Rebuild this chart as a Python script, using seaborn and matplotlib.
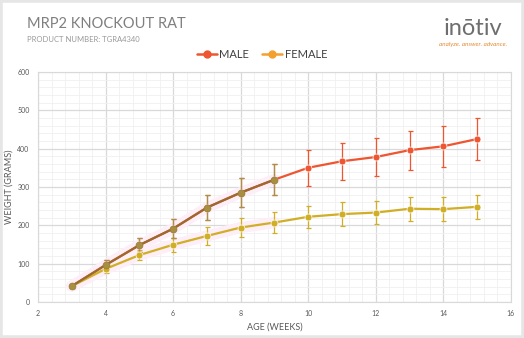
import matplotlib
matplotlib.use("Agg")
import matplotlib.pyplot as plt
import seaborn as sns
import pandas as pd
from matplotlib.patches import Rectangle
from matplotlib.lines import Line2D

weeks = [3, 4, 5, 6, 7, 8, 9, 10, 11, 12, 13, 14, 15]
male = [41, 96, 148, 191, 246, 285, 319, 350, 367, 378, 396, 406, 425]
male_err = [5, 12, 18, 25, 32, 37, 41, 47, 48, 49, 51, 54, 56]
female = [41, 86, 122, 149, 172, 194, 207, 222, 229, 233, 243, 242, 248]
female_err = [5, 10, 14, 18, 23, 25, 27, 29, 31, 31, 31, 31, 32]

df = pd.DataFrame({
    "week": weeks * 2,
    "weight": male + female,
    "sex": ["MALE"] * len(weeks) + ["FEMALE"] * len(weeks),
})

sns.set_theme(style="white")
plt.rcParams["font.family"] = ["Lato", "DejaVu Sans"]

c_male = "#EE5530"
c_male_dark = "#9A6A2E"
c_female = "#D0AE26"

fig = plt.figure(figsize=(5.24, 3.38), dpi=100)
ax = fig.add_axes([0.0725, 0.107, 0.9025, 0.68])

# faint pink glow
early = df[df["week"] <= 9]
for sex in ["MALE", "FEMALE"]:
    d = early[early["sex"] == sex]
    ax.plot(d["week"], d["weight"], color="#FDEEF8", lw=8, solid_capstyle="round", zorder=1.5)

sns.lineplot(data=df, x="week", y="weight", hue="sex",
             palette={"MALE": c_male, "FEMALE": c_female},
             marker="o", markersize=5, linewidth=1.6, markeredgewidth=0.5,
             ax=ax, legend=False, zorder=3)
dm = df[(df["sex"] == "MALE") & (df["week"] <= 9)]
ax.plot(dm["week"], dm["weight"], color=c_male_dark, lw=1.6, marker="o", ms=5,
        mec="#9A7A3A", mfc="#A88E40", mew=0.5, zorder=3.5)

ax.errorbar(weeks, male, yerr=male_err, fmt="none", ecolor=c_male, elinewidth=0.9,
            capsize=1.8, capthick=0.9, zorder=2.5)
ax.errorbar(weeks[:7], male[:7], yerr=male_err[:7], fmt="none", ecolor="#A8904A",
            elinewidth=0.9, capsize=1.8, capthick=0.9, zorder=2.6)
ax.errorbar(weeks, female, yerr=female_err, fmt="none", ecolor=c_female, elinewidth=0.9,
            capsize=1.8, capthick=0.9, zorder=2.5)

ax.set_xlim(2, 16)
ax.set_ylim(0, 600)
ax.set_xticks(range(2, 17, 2))
ax.set_yticks(range(0, 601, 100))
ax.set_xticks([2 + 0.4 * i for i in range(36)], minor=True)
ax.set_yticks(range(0, 601, 20), minor=True)
ax.grid(True, which="major", color="#D9D9D9", lw=0.9, zorder=0)
ax.grid(True, which="minor", color="#F0F0F0", lw=0.6, zorder=0)
ax.set_axisbelow(True)
for s in ax.spines.values():
    s.set_color("#D9D9D9")
    s.set_linewidth(0.8)
ax.tick_params(axis="both", which="both", length=0, labelsize=5, colors="#595959", pad=6)
ax.set_xlabel("AGE (WEEKS)", fontsize=6.5, color="#595959")
ax.set_ylabel("WEIGHT (GRAMS)", fontsize=6.5, color="#595959")
ax.yaxis.set_label_coords(-0.052, 0.5)
ax.xaxis.set_label_coords(0.5, -0.09)

# legend
handles = [Line2D([0], [0], color=c_male, lw=1.8, marker="o", ms=5),
           Line2D([0], [0], color="#F3A02E", lw=1.8, marker="o", ms=5)]
fig.legend(handles, ["MALE", "FEMALE"], loc="center", bbox_to_anchor=(0.5, 0.838),
           ncol=2, frameon=False, fontsize=8, handlelength=1.8, handletextpad=0.2,
           columnspacing=1.2, labelcolor="#404040")

# titles
fig.text(0.051, 0.928, "MRP2 KNOCKOUT RAT", fontsize=10.5, color="#7F7F7F", va="center", ha="left")
fig.text(0.051, 0.883, "PRODUCT NUMBER: TGRA4340", fontsize=5.5, color="#999999", va="center", ha="left")

# logo
fig.text(0.903, 0.915, "inōtiv", fontsize=17, color="#6E6E6E", va="center", ha="center")
fig.text(0.903, 0.869, "analyze. answer. advance.", fontsize=4.5, color="#E58A30",
         style="italic", va="center", ha="center")

fig.patches.append(Rectangle((0, 0), 1, 1, transform=fig.transFigure, fill=False,
                             edgecolor="#E6E6E6", lw=4))

fig.savefig("out.png", dpi=100)
